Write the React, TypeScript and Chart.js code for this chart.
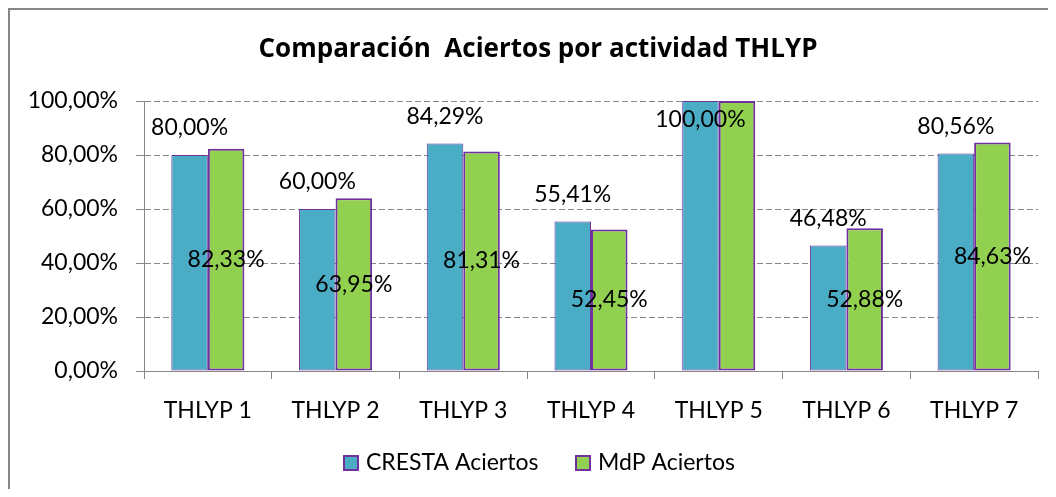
import React, { useEffect, useRef } from "react";
import { Chart, registerables } from "chart.js";

Chart.register(...registerables);

const categories = ["THLYP 1", "THLYP 2", "THLYP 3", "THLYP 4", "THLYP 5", "THLYP 6", "THLYP 7"];
const crestaAciertos = [80.0, 60.0, 84.29, 55.41, 100.0, 46.48, 80.56];
const mdpAciertos = [82.33, 63.95, 81.31, 52.45, 100.0, 52.88, 84.63];
const seriesNames = ["CRESTA Aciertos", "MdP Aciertos"];
const titleText = "Comparación  Aciertos por actividad THLYP";

const FONT = "Lato, 'Open Sans', sans-serif";
const TITLE_FONT = "'Open Sans', Lato, sans-serif";
const fmt = (v: number) => v.toFixed(2).replace(".", ",") + "%";

const decorPlugin = {
  id: "decor",
  afterDraw(chart: any) {
    const { ctx, chartArea, width } = chart;
    ctx.save();
    // outer border (top and left)
    ctx.strokeStyle = "#868686";
    ctx.lineWidth = 2;
    ctx.beginPath();
    ctx.moveTo(1, chart.height);
    ctx.lineTo(1, 1);
    ctx.lineTo(width, 1);
    ctx.stroke();

    // title
    ctx.fillStyle = "#000";
    ctx.font = `bold 26px ${TITLE_FONT}`;
    ctx.textAlign = "center";
    ctx.textBaseline = "middle";
    ctx.fillText(titleText, 530, 42);

    // data labels
    ctx.font = `23px ${FONT}`;
    chart.data.datasets.forEach((ds: any, di: number) => {
      const meta = chart.getDatasetMeta(di);
      meta.data.forEach((bar: any, i: number) => {
        const v = ds.data[i];
        let y: number;
        if (di === 0) {
          y = bar.y - 27;
          if (y < chartArea.top) y = bar.y + 19;
        } else {
          if (v >= 100) return;
          y = (bar.y + bar.base) / 2;
        }
        ctx.fillText(fmt(v), bar.x, y);
      });
    });

    // legend
    const items = [
      { x: 335, ds: chart.data.datasets[0] },
      { x: 567, ds: chart.data.datasets[1] },
    ];
    ctx.textAlign = "left";
    items.forEach((it) => {
      ctx.fillStyle = it.ds.backgroundColor;
      ctx.fillRect(it.x, 447, 16, 16);
      ctx.strokeStyle = "#7030A0";
      ctx.lineWidth = 2;
      ctx.strokeRect(it.x + 1, 448, 14, 14);
      ctx.fillStyle = "#000";
      ctx.fillText(it.ds.label, it.x + 23, 455);
    });
    ctx.restore();
  },
};

export default function App() {
  const ref = useRef<HTMLCanvasElement>(null);
  useEffect(() => {
    if (!ref.current) return;
    const chart = new Chart(ref.current, {
      type: "bar",
      data: {
        labels: categories,
        datasets: [
          {
            label: seriesNames[0],
            data: crestaAciertos,
            backgroundColor: "#4BACC6",
            borderColor: "#7030A0",
            borderWidth: 1,
            borderSkipped: false,
          },
          {
            label: seriesNames[1],
            data: mdpAciertos,
            backgroundColor: "#92D050",
            borderColor: "#7030A0",
            borderWidth: 2,
            borderSkipped: false,
          },
        ],
      },
      options: {
        animation: false,
        responsive: false,
        maintainAspectRatio: false,
        categoryPercentage: 0.572,
        barPercentage: 1,
        layout: { padding: { top: 93, right: 10, left: 0, bottom: 0 } },
        plugins: {
          legend: { display: false },
          title: { display: false },
          tooltip: { enabled: false },
        },
        scales: {
          x: {
            grid: {
              offset: true,
              drawOnChartArea: false,
              drawTicks: true,
              tickLength: 8,
              color: "#868686",
            },
            border: { display: true, color: "#868686", width: 1 },
            ticks: { color: "#000", font: { family: FONT, size: 23 }, padding: 18 },
            afterFit: (s: any) => {
              s.height = 118;
            },
          },
          y: {
            min: 0,
            max: 100,
            ticks: {
              stepSize: 20,
              color: "#000",
              font: { family: FONT, size: 23 },
              padding: 18,
              callback: (v: any) => fmt(Number(v)),
            },
            grid: { color: "#868686", tickLength: 8, drawTicks: true },
            border: { display: true, color: "#868686", dash: [6, 3] },
            afterFit: (s: any) => {
              s.width = 136;
            },
          },
        },
      },
      plugins: [decorPlugin],
    });
    return () => chart.destroy();
  }, []);
  return <canvas ref={ref} width={1040} height={481} style={{ display: "block" }} />;
}
